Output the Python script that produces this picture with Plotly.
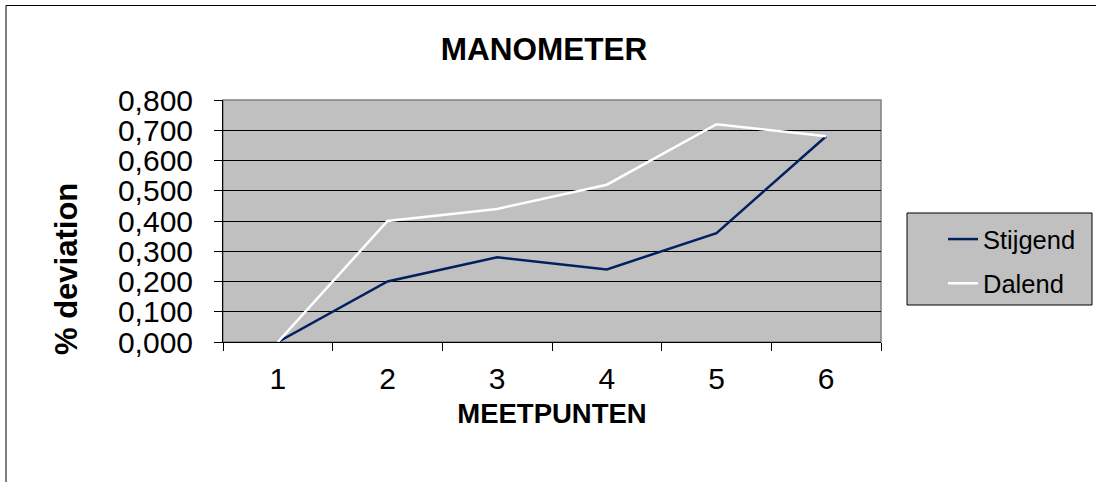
import plotly.graph_objects as go

categories = ["1", "2", "3", "4", "5", "6"]
stijgend = [0.0, 0.20, 0.28, 0.24, 0.36, 0.68]
dalend = [0.0, 0.40, 0.44, 0.52, 0.72, 0.68]
y_ticks = [0.0, 0.1, 0.2, 0.3, 0.4, 0.5, 0.6, 0.7, 0.8]

FONT = "Liberation Sans, Arial, sans-serif"
W, H = 1096, 482
L, R, T, B = 223, 215, 100, 140
pw, ph = W - L - R, H - T - B

def px(x):
    return (x - L) / pw

def py(y):
    return (H - B - y) / ph

fig = go.Figure()
fig.add_trace(go.Scatter(x=categories, y=stijgend, mode="lines", name="Stijgend",
                         line=dict(color="#002060", width=2.5), legendgroup="a"))
fig.add_trace(go.Scatter(x=categories, y=dalend, mode="lines", name="Dalend",
                         line=dict(color="#ffffff", width=2.5), legendgroup="b"))

fig.update_layout(
    width=W, height=H,
    margin=dict(l=L, r=R, t=T, b=B, autoexpand=False),
    paper_bgcolor="white",
    plot_bgcolor="#c0c0c0",
    separators=",.",
    font=dict(family=FONT, color="black", size=28),
    title=dict(text="<b>MANOMETER</b>", x=544 / W, xref="container", xanchor="center",
               y=1 - 49 / H, yref="container", yanchor="middle",
               font=dict(size=31.5, family=FONT, color="black")),
    showlegend=True,
    legend=dict(x=px(943), y=py(216), xanchor="left", yanchor="top",
                bgcolor="rgba(0,0,0,0)", borderwidth=0,
                font=dict(size=25.5, family=FONT, color="black"),
                tracegroupgap=8),
    xaxis=dict(type="category", range=[-0.5, 5.5], tickson="boundaries",
               ticks="outside", ticklen=8,
               tickcolor="black", tickwidth=1, showline=True, linecolor="black",
               linewidth=1, showgrid=False, zeroline=False,
               tickfont=dict(size=30, family=FONT), ticklabelstandoff=10,
               title=dict(text="<b>MEETPUNTEN</b>", font=dict(size=27.5, family=FONT),
                          standoff=9)),
    yaxis=dict(range=[0, 0.8], tickvals=y_ticks, tickformat=".3f", ticks="outside",
               ticklen=8, tickcolor="black", tickwidth=1, showline=True,
               linecolor="black", linewidth=1, showgrid=True, gridcolor="black",
               gridwidth=1, zeroline=False, tickfont=dict(size=30, family=FONT),
               ticklabelstandoff=15),
    annotations=[
        dict(text="<b>% deviation</b>", xref="paper", yref="paper",
             x=px(66), y=py(269), xanchor="center", yanchor="middle",
             textangle=-90, showarrow=False,
             font=dict(size=31, family=FONT, color="black")),
    ],
    shapes=[
        # plot area border (gray)
        dict(type="rect", xref="paper", yref="paper", x0=0, x1=1, y0=0, y1=1,
             line=dict(color="#808080", width=1.5), fillcolor="rgba(0,0,0,0)",
             layer="below"),
        # legend box
        dict(type="rect", xref="paper", yref="paper", x0=px(907), x1=px(1092),
             y0=py(305), y1=py(213), line=dict(color="black", width=1),
             fillcolor="#c0c0c0", layer="above"),
        # chart outer border
        dict(type="rect", xref="paper", yref="paper", x0=px(6), x1=px(1300),
             y0=py(700), y1=py(5.5), line=dict(color="black", width=1),
             fillcolor="rgba(0,0,0,0)", layer="above"),
    ],
)

fig.write_html("out.html", config={"displayModeBar": False},
               post_script="document.body.style.margin='0';")
